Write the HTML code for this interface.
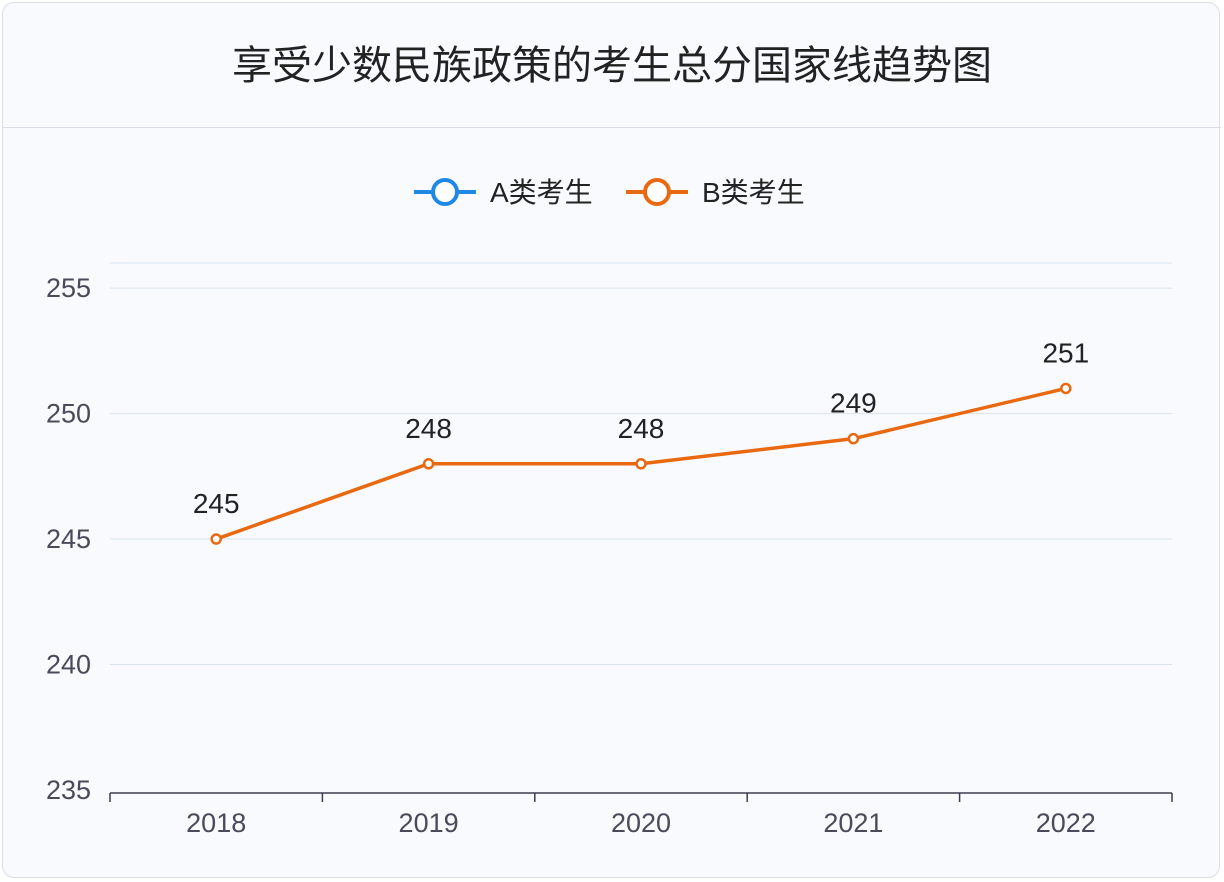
<!DOCTYPE html>
<html><head><meta charset="utf-8">
<style>
html,body{margin:0;padding:0;background:#fff;}
body{width:1224px;height:882px;position:relative;overflow:hidden;font-family:"Liberation Sans","Noto Sans CJK SC",sans-serif;}
#card{position:absolute;left:2px;top:2px;width:1218px;height:876px;border:1px solid #dcdfe6;border-radius:12px;background:#f9fafe;box-sizing:border-box;}
#title{position:absolute;left:0;top:0;width:1218px;height:124px;border-bottom:1px solid #d8dce6;text-align:center;line-height:126px;font-size:40px;color:#222;}
svg{position:absolute;left:0;top:0;}
</style></head><body>
<div id="card">
<div id="title">享受少数民族政策的考生总分国家线趋势图</div>
</div>
<svg id="chart" width="1224" height="882"></svg>
<script>
const categories=["2018","2019","2020","2021","2022"];
const seriesB=[245,248,248,249,251];
const yTicks=[235,240,245,250,255];
const yMin=235,yMax=256;
const svg=document.getElementById('chart');
const NS='http://www.w3.org/2000/svg';
const L=110,R=1172,T=263,B=790;
const bw=(R-L)/categories.length;
const x=i=>L+bw*(i+0.5);
const y=v=>B-(v-yMin)/(yMax-yMin)*(B-T);
function mk(t,a,p){const e=document.createElementNS(NS,t);for(const k in a)e.setAttribute(k,a[k]);(p||svg).appendChild(e);return e;}
let g=mk('line',{x1:L,x2:R,y1:T,y2:T,stroke:'#d9e4ef','stroke-width':1});


yTicks.forEach(v=>{
  if(v!==yMin){const l=mk('line',{x1:L,x2:R,y1:y(v),y2:y(v),stroke:'#d9e4ef','stroke-width':1});
  
  }
  const t=mk('text',{x:91,y:y(v)+9,'text-anchor':'end','font-size':27,fill:'#4a4a5a'});
  t.textContent=v;
  
  
});
const ax=mk('line',{x1:L,x2:R,y1:B+3,y2:B+3,stroke:'#3c3c50','stroke-width':1.5});


for(let i=0;i<=categories.length;i++){
  const tk=mk('line',{x1:L+bw*i,x2:L+bw*i,y1:B+3,y2:B+12,stroke:'#3c3c50','stroke-width':1.5});
  
  
}
categories.forEach((c,i)=>{
  const t=mk('text',{x:x(i),y:B+42,'text-anchor':'middle','font-size':27,fill:'#4a4a5a'});
  t.textContent=c;
  
  
});
const line=mk('polyline',{points:seriesB.map((v,i)=>x(i)+','+y(v)).join(' '),fill:'none',stroke:'#e8690f','stroke-width':3.5,'stroke-linejoin':'round'});


seriesB.forEach((v,i)=>{
  const c=mk('circle',{cx:x(i),cy:y(v),r:4.5,fill:'#fff',stroke:'#e8690f','stroke-width':2.5});
  
  
  const t=mk('text',{x:x(i),y:y(v)-26,'text-anchor':'middle','font-size':28,fill:'#222'});
  t.textContent=v;
  
  
});
[['A类考生','#1e88e5',445,'legend-entry-a'],['B类考生','#e8690f',657,'legend-entry-b']].forEach(d=>{
  const grp=mk('g',{});
  
  
  mk('line',{x1:d[2]-31,x2:d[2]+31,y1:192,y2:192,stroke:d[1],'stroke-width':4},grp);
  mk('circle',{cx:d[2],cy:192,r:12,fill:'#fff',stroke:d[1],'stroke-width':4},grp);
  const t=mk('text',{x:d[2]+45,y:202,'font-size':28,fill:'#222'},grp);
  t.textContent=d[0];
});
</script>
</body></html>
